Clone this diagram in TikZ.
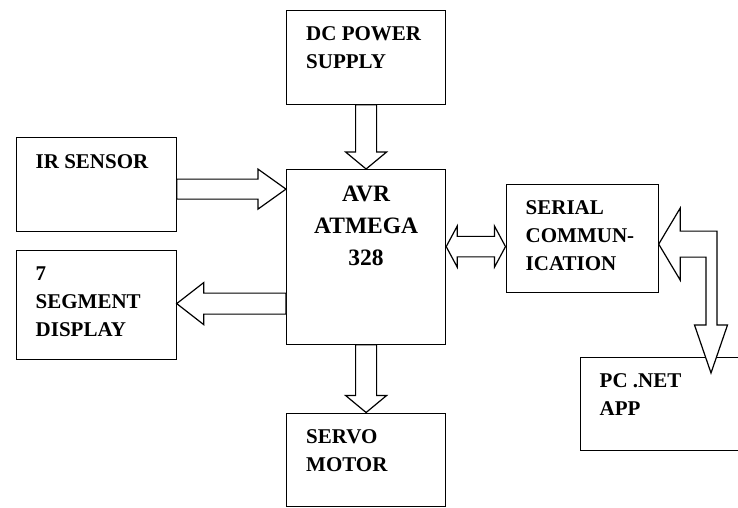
\documentclass[tikz,border=0pt]{standalone}
\usepackage{fontspec}
\setmainfont{Liberation Serif}
\usetikzlibrary{calc, positioning}
\newcommand\hwbox[6]{\node[hwblk, anchor=north west, minimum width=#4pt, minimum height=#5pt] (#1) at (#2,#3) {};\node[hwtxt, anchor=north west] (#1-txt) at ($(#1.north west)+(20,17)$) {#6};}
\tikzset{
  hwblk/.style={draw=black, line width=1.2pt, inner sep=0pt},
  hwtxt/.style={font=\fontsize{21}{28}\selectfont\bfseries, align=left, inner sep=0pt},
  fatarrow/.style={draw=black, fill=white, line width=1.2pt},
}

\begin{document}
\begin{tikzpicture}[x=1pt, y=-1pt]
\useasboundingbox (0,0) rectangle (738,507);

\hwbox{dc}{286}{9.5}{159}{94}{DC POWER\\SUPPLY};
\hwbox{ir}{15.5}{137}{160}{93.5}{IR SENSOR};
\hwbox{seg}{15.5}{250}{160}{109}{7\\SEGMENT\\DISPLAY};
\hwbox{serial}{505.5}{183.5}{152}{108.5}{SERIAL\\COMMUN-\\ICATION};
\hwbox{servo}{286}{412.5}{159}{93.5}{SERVO\\MOTOR};
\hwbox{pc}{579.5}{356.5}{170}{93.5}{PC .NET\\APP};

% controller
\node[hwblk, anchor=north west, minimum width=159pt, minimum height=174.5pt] (avr) at (286,169) {};
\node[hwtxt, font=\fontsize{23.5}{32}\selectfont\bfseries, align=center, anchor=north] (avr-txt) at ($(avr.north)+(0,17)$) {AVR\\ATMEGA\\328};

% power in, servo out
\draw[fatarrow] ($(dc.south)+(-10.5,0)$) -- ($(avr.north)+(-10.5,-17)$) -- ++(-10,0) -- (avr.north) -- ++(20.5,-17) -- ++(-10,0) -- ($(dc.south)+(10.5,0)$) -- cycle;
\draw[fatarrow] ($(avr.south)+(-10.5,0)$) -- ($(servo.north)+(-10.5,-17)$) -- ++(-10,0) -- (servo.north) -- ++(20.5,-17) -- ++(-10,0) -- ($(avr.south)+(10.5,0)$) -- cycle;

% sensor in, display out
\coordinate (irout) at ($(ir.east)+(0,4.75)$);
\coordinate (irin) at (irout -| avr.west);
\draw[fatarrow] ($(irout)+(0,-10)$) -- ($(irin)+(-28,-10)$) -- ++(0,-10) -- (irin) -- ++(-28,20) -- ++(0,-10) -- ($(irout)+(0,10)$) -- cycle;
\coordinate (segin) at ($(seg.east)+(0,-1.5)$);
\coordinate (segout) at (segin -| avr.west);
\draw[fatarrow] ($(segout)+(0,-10.5)$) -- ($(segin)+(27,-10.5)$) -- ++(0,-10.5) -- (segin) -- ++(27,21) -- ++(0,-10.5) -- ($(segout)+(0,10.5)$) -- cycle;

% serial link
\coordinate (ls) at ($(avr.east)+(0,-10.25)$);
\coordinate (rs) at (ls -| serial.west);
\draw[fatarrow] (ls) -- ++(11,-20.5) -- ++(0,10.25) -- ($(rs)+(-11,-10.25)$) -- ++(0,-10.25) -- (rs) -- ++(-11,20.5) -- ++(0,-10.25) -- ($(ls)+(11,10.25)$) -- ++(0,10.25) -- cycle;

% pc link
\coordinate (st) at ($(serial.east)+(0,5.75)$);
\coordinate (pt) at ($(pc.north west)+(131.5,16.5)$);
\draw[fatarrow] (st) -- ++(21.5,-36) -- ++(0,23) -- ($(st -| pt)+(6,-13)$) -- ($(pt)+(6,-48)$) -- ++(10.5,0) -- (pt) -- ++(-16.5,-48) -- ++(11.5,0) -- ($(st -| pt)+(-5,13)$) -- ($(st)+(21.5,13)$) -- ++(0,23) -- cycle;

\end{tikzpicture}
\end{document}
